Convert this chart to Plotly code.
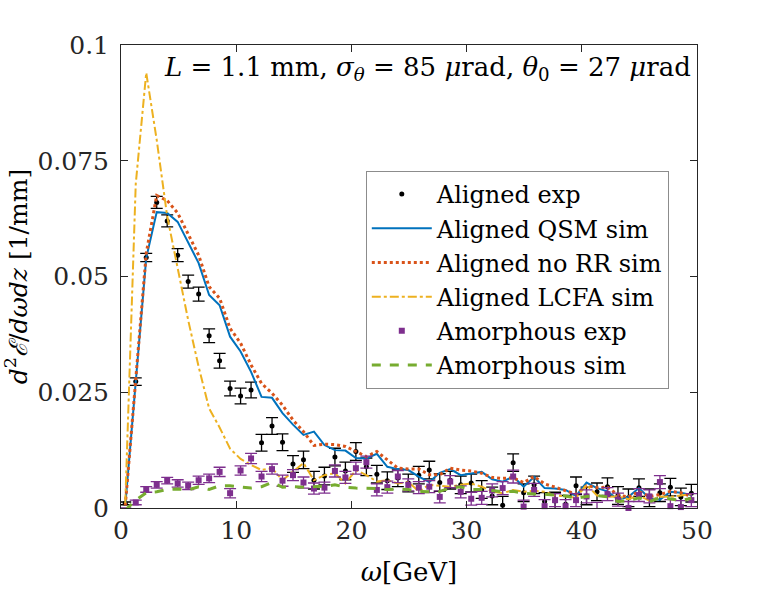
import plotly.graph_objects as go

omega = [0.37, 1.28, 2.19, 3.1, 4.01, 4.92, 5.83, 6.74, 7.65, 8.56, 9.47, 10.38, 11.29, 12.2,
         13.11, 14.02, 14.93, 15.84, 16.75, 17.66, 18.57, 19.48, 20.39, 21.3, 22.21, 23.12,
         24.03, 24.94, 25.85, 26.76, 27.67, 28.58, 29.49, 30.4, 31.31, 32.22, 33.13, 34.04,
         34.95, 35.86, 36.77, 37.68, 38.59, 39.5, 40.41, 41.32, 42.23, 43.14, 44.05, 44.96,
         45.87, 46.78, 47.69, 48.6, 49.51]

aligned_exp = [0.001, 0.0273, 0.0541, 0.066, 0.062, 0.0546, 0.0489, 0.0462, 0.0372, 0.0318,
               0.0258, 0.0242, 0.0255, 0.0141, 0.0177, 0.0142, 0.0095, 0.0104, 0.006, 0.0069,
               0.011, 0.008, 0.0122, 0.0089, 0.0073, 0.0059, 0.0065, 0.0054, 0.0071, 0.0082,
               0.0055, 0.006, 0.005, 0.0054, 0.004, 0.0026, 0.0006, 0.0098, 0.0033, 0.005,
               0.0014, 0.0015, 0.0008, 0.0048, 0.0026, 0.0035, 0.0046, 0.0027, 0.0022, 0.0044,
               0.0022, 0.0033, 0.0045, 0.0024, 0.0032]
aligned_err = [0.0003, 0.0008, 0.0009, 0.0013, 0.0013, 0.0014, 0.0014, 0.0015, 0.0015, 0.0016,
               0.0016, 0.0017, 0.0017, 0.0018, 0.0018, 0.0018, 0.0018, 0.0019, 0.0019, 0.0019,
               0.0019, 0.0019, 0.0019, 0.0019, 0.0019, 0.0019, 0.0019, 0.0019, 0.0019, 0.0019,
               0.0019, 0.0019, 0.0019, 0.0019, 0.0019, 0.0019, 0.0019, 0.0019, 0.0019, 0.0019,
               0.0019, 0.0019, 0.0019, 0.0019, 0.0019, 0.0019, 0.0019, 0.0019, 0.0019, 0.0019,
               0.0019, 0.0019, 0.0019, 0.0019, 0.0019]

qsm_sim = [0.0005, 0.027, 0.054, 0.0639, 0.0637, 0.0618, 0.0572, 0.0529, 0.046, 0.0438,
           0.037, 0.0338, 0.0294, 0.024, 0.0238, 0.0205, 0.018, 0.0158, 0.0165, 0.0136,
           0.0125, 0.0124, 0.0108, 0.0107, 0.0117, 0.0089, 0.0084, 0.0082, 0.0068, 0.0056,
           0.0076, 0.0084, 0.0071, 0.0075, 0.0078, 0.0062, 0.0057, 0.0068, 0.0046, 0.0067,
           0.0043, 0.0042, 0.0039, 0.0026, 0.0055, 0.0043, 0.0036, 0.0018, 0.0024, 0.0043,
           0.0021, 0.0018, 0.0035, 0.0033, 0.0028]

norr_sim = [0.0005, 0.027, 0.055, 0.0675, 0.0664, 0.0637, 0.059, 0.0546, 0.0478, 0.0453,
            0.0388, 0.0356, 0.0309, 0.0269, 0.0248, 0.0222, 0.019, 0.0165, 0.0135, 0.0138,
            0.0137, 0.0133, 0.0122, 0.0111, 0.0122, 0.0105, 0.0086, 0.0084, 0.0084, 0.0072,
            0.0072, 0.0086, 0.0082, 0.008, 0.0075, 0.0066, 0.0064, 0.0065, 0.0055, 0.0068,
            0.0052, 0.0045, 0.0037, 0.003, 0.0048, 0.0044, 0.0045, 0.0028, 0.0024, 0.0035,
            0.0025, 0.0029, 0.0036, 0.0033, 0.0025]

lcfa_sim = [0.001, 0.07, 0.094, 0.0795, 0.063, 0.0514, 0.0406, 0.0305, 0.0215, 0.0174,
            0.0128, 0.0106, 0.0093, 0.0082, 0.0086, 0.006, 0.0078, 0.0097, 0.006, 0.0071,
            0.0075, 0.0053, 0.0082, 0.0071, 0.0057, 0.006, 0.0053, 0.0056, 0.0036, 0.005,
            0.0048, 0.0046, 0.005, 0.0053, 0.0046, 0.0036, 0.0032, 0.0039, 0.0035, 0.0037,
            0.0035, 0.0027, 0.0025, 0.0022, 0.005, 0.0027, 0.0024, 0.0025, 0.0019, 0.0027,
            0.0016, 0.0025, 0.0024, 0.0027, 0.003]

amorph_exp = [-0.0003, 0.0012, 0.004, 0.005, 0.0059, 0.0053, 0.0048, 0.006, 0.0064, 0.0078,
              0.0032, 0.0081, 0.0107, 0.0068, 0.0084, 0.0059, 0.0071, 0.0055, 0.0042, 0.0044,
              0.008, 0.0066, 0.0086, 0.0099, 0.0039, 0.0045, 0.0068, 0.005, 0.0044, 0.0046,
              0.0024, 0.0057, 0.0035, 0.002, 0.0022, 0.0038, 0.0043, 0.0068, 0.0003, 0.0039,
              0.0004, 0.0017, 0.0004, 0.0017, 0.0025, -0.0002, 0.003, 0.0018, 0.0, 0.0028,
              0.0025, 0.0056, 0.0004, 0.0002, 0.0017]
amorph_err = [0.0003, 0.0005, 0.0006, 0.0007, 0.0007, 0.0008, 0.0008, 0.0009, 0.0009, 0.001,
              0.001, 0.001, 0.0011, 0.0011, 0.0011, 0.0012, 0.0012, 0.0012, 0.0012, 0.0012,
              0.0013, 0.0013, 0.0013, 0.0013, 0.0013, 0.0013, 0.0013, 0.0013, 0.0013, 0.0013,
              0.0013, 0.0013, 0.0013, 0.0014, 0.0014, 0.0014, 0.0014, 0.0014, 0.0014, 0.0014,
              0.0014, 0.0014, 0.0014, 0.0014, 0.0014, 0.0014, 0.0014, 0.0014, 0.0014, 0.0014,
              0.0014, 0.0014, 0.0014, 0.0014, 0.0014]

amorph_sim = [-0.0005, 0.0017, 0.0033, 0.0035, 0.004, 0.0041, 0.0039, 0.0046, 0.004, 0.0048,
              0.0048, 0.0045, 0.0043, 0.0046, 0.0055, 0.0045, 0.0046, 0.0045, 0.0046, 0.0047,
              0.005, 0.0045, 0.0043, 0.0043, 0.0042, 0.004, 0.0041, 0.004, 0.0036, 0.0035,
              0.0036, 0.0043, 0.0046, 0.004, 0.004, 0.0038, 0.0035, 0.0036, 0.0032, 0.003,
              0.003, 0.0028, 0.0026, 0.0021, 0.0025, 0.0027, 0.0024, 0.0014, 0.0016, 0.0022,
              0.0013, 0.0023, 0.0019, 0.0016, 0.0021]

FONT = "DejaVu Serif"
BLACK = "#000000"
BLUE = "#0072BD"
RED = "#D95319"
YELLOW = "#EDB120"
PURPLE = "#7E2F8E"
GREEN = "#77AC30"

fig = go.Figure()
fig.add_trace(go.Scatter(
    x=omega, y=aligned_exp, mode="markers", name="Aligned exp",
    marker=dict(color=BLACK, size=5),
    error_y=dict(type="data", array=aligned_err, color=BLACK, thickness=1.3, width=6),
    cliponaxis=False))
fig.add_trace(go.Scatter(
    x=omega, y=qsm_sim, mode="lines", name="Aligned QSM sim",
    line=dict(color=BLUE, width=2)))
fig.add_trace(go.Scatter(
    x=omega, y=norr_sim, mode="lines", name="Aligned no RR sim",
    line=dict(color=RED, width=3, dash="dot")))
fig.add_trace(go.Scatter(
    x=omega, y=lcfa_sim, mode="lines", name="Aligned LCFA sim",
    line=dict(color=YELLOW, width=2, dash="dashdot")))
fig.add_trace(go.Scatter(
    x=omega, y=amorph_exp, mode="markers", name="Amorphous exp",
    marker=dict(color=PURPLE, size=6, symbol="square"),
    error_y=dict(type="data", array=amorph_err, color=PURPLE, thickness=1.3, width=6),
    cliponaxis=False))
fig.add_trace(go.Scatter(
    x=omega, y=amorph_sim, mode="lines", name="Amorphous sim",
    line=dict(color=GREEN, width=3, dash="dash")))

axis_common = dict(
    showline=True, linecolor="#262626", linewidth=1, mirror="ticks",
    ticks="inside", ticklen=7, tickcolor="#262626", showgrid=False, zeroline=False,
    tickfont=dict(family=FONT, size=25, color="#262626"), automargin=False,
)

fig.update_layout(
    width=769, height=596,
    margin=dict(l=121, r=72, t=45, b=88),
    paper_bgcolor="white", plot_bgcolor="white",
    font=dict(family=FONT, size=24, color="black"),
    xaxis=dict(range=[0, 50], tickvals=[0, 10, 20, 30, 40, 50],
               title=dict(text="<i>ω</i>[GeV]", font=dict(family=FONT, size=26), standoff=18),
               **axis_common),
    yaxis=dict(range=[0, 0.1], tickvals=[0, 0.025, 0.05, 0.075, 0.1],
               ticktext=["0", "0.025", "0.05", "0.075", "0.1"],
               ticklabelstandoff=6,
               title=dict(text="<i>d</i><sup>2</sup><i>ℰ</i>/<i>dωdz</i> [1/mm]",
                          font=dict(family=FONT, size=25), standoff=6),
               **axis_common),
    showlegend=True,
    legend=dict(x=0.425, y=0.728, xanchor="left", yanchor="top",
                bgcolor="white", bordercolor="#8c8c8c", borderwidth=1,
                font=dict(family=FONT, size=24, color="black"),
                itemwidth=60, tracegroupgap=0),
    annotations=[dict(
        xref="paper", yref="paper", x=0.993, y=0.95, xanchor="right", yanchor="middle",
        text="<i>L</i> = 1.1 mm, <i>σ</i><sub><i>θ</i></sub> = 85 <i>μ</i>rad, <i>θ</i><sub>0</sub> = 27 <i>μ</i>rad",
        showarrow=False, font=dict(family=FONT, size=26, color="black"))],
)

fig.write_html("out.html")
